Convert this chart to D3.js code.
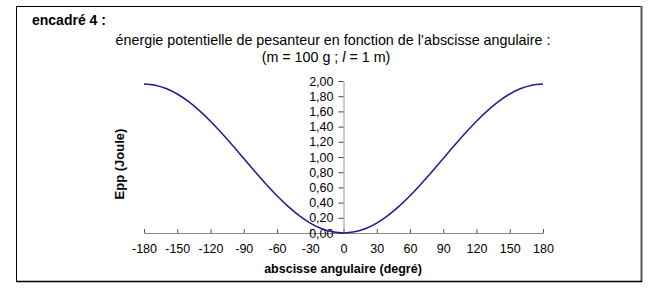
<!DOCTYPE html>
<html>
<head>
<meta charset="utf-8">
<script src="https://cdn.jsdelivr.net/npm/d3@7"></script>
<style>
  body { margin: 0; background: #fff; }
  text { font-family: "Liberation Sans", Arial, sans-serif; }
</style>
</head>
<body>
<svg class="plot" width="660" height="293"></svg>
<script>
// angles (degrees) and potential energy (J)
var angles = [-180,-170,-160,-150,-140,-130,-120,-110,-100,-90,-80,-70,-60,-50,-40,-30,-20,-10,
              0,10,20,30,40,50,60,70,80,90,100,110,120,130,140,150,160,170,180];
var energy = [1.96,1.945,1.901,1.829,1.731,1.610,1.47,1.315,1.150,0.98,0.810,0.645,0.49,0.350,0.229,0.131,0.059,0.015,
              0,0.015,0.059,0.131,0.229,0.350,0.49,0.645,0.810,0.98,1.150,1.315,1.47,1.610,1.731,1.829,1.901,1.945,1.96];
var xTicks = [-180,-150,-120,-90,-60,-30,0,30,60,90,120,150,180];
var yTicks = [0,0.2,0.4,0.6,0.8,1.0,1.2,1.4,1.6,1.8,2.0];

var svg = d3.select(".plot");

//frame
svg.append("rect")
    .attr("x", 16.5).attr("y", 6.5)
    .attr("width", 625).attr("height", 275)
    .attr("fill", "#fff")
    .attr("stroke", "#000")
    .attr("stroke-width", 1);
svg.append("line")
    .attr("x1", 641.5).attr("x2", 641.5).attr("y1", 6).attr("y2", 282)
    .attr("stroke", "#555").attr("stroke-width", 2);
svg.append("line")
    .attr("x1", 16).attr("x2", 642).attr("y1", 281.5).attr("y2", 281.5)
    .attr("stroke", "#000").attr("stroke-width", 1.5);

var x = d3.scaleLinear().domain([-180, 180]).range([144, 543]),
    y = d3.scaleLinear().domain([0, 2]).range([233, 81]);

//titles
svg.append("text")
    .attr("x", 32).attr("y", 25)
    .style("font-size", "14px").style("font-weight", "bold")
    .text("encadré 4 :");

svg.append("text")
    .attr("x", 333).attr("y", 45)
    .attr("text-anchor", "middle")
    .style("font-size", "14.3px")
    .text("énergie potentielle de pesanteur en fonction de l’abscisse angulaire :");

var t2 = svg.append("text")
    .attr("x", 326).attr("y", 62)
    .attr("text-anchor", "middle")
    .style("font-size", "14.3px");
t2.append("tspan").text("(m = 100 g ; ");
t2.append("tspan").style("font-style", "italic").text("l");
t2.append("tspan").text(" = 1 m)");

//axes
var xAxis = svg.append("g")
    .attr("transform", "translate(0," + y(0) + ")")
    .call(d3.axisBottom(x).tickValues(xTicks).tickSize(0).tickPadding(11)
          .tickFormat(function(d) { return String(d); }));
xAxis.select(".domain").attr("stroke", "#888");
xAxis.selectAll(".tick line")
    .attr("y2", -4).attr("stroke", "#555");
xAxis.selectAll("text")
    .style("font-size", "12.5px").attr("fill", "#000");

var yAxis = svg.append("g")
    .attr("transform", "translate(" + x(0) + ",0)")
    .call(d3.axisLeft(y).tickValues(yTicks).tickSize(5).tickSizeOuter(0).tickPadding(5)
          .tickFormat(function(d) { return d.toFixed(2).replace(".", ","); }));
yAxis.select(".domain").attr("stroke", "#999");
yAxis.selectAll(".tick line").attr("stroke", "#444");
yAxis.selectAll("text")
    .style("font-size", "12.5px").attr("fill", "#000");

svg.append("text")
    .attr("x", 343).attr("y", 273)
    .attr("text-anchor", "middle")
    .style("font-size", "12.5px").style("font-weight", "bold")
    .text("abscisse angulaire (degré)");

svg.append("text")
    .attr("transform", "translate(124,164)rotate(-90)")
    .attr("text-anchor", "middle")
    .style("font-size", "13px").style("font-weight", "bold")
    .text("Epp (Joule)");

//curve
var line = d3.line()
    .x(function(d, i) { return x(angles[i]); })
    .y(function(d) { return y(d); })
    .curve(d3.curveCatmullRom);

svg.append("path")
    .datum(energy)
    .attr("d", line)
    .attr("fill", "none")
    .attr("stroke", "#1c1c8f")
    .attr("stroke-width", 1.5);
</script>
</body>
</html>
